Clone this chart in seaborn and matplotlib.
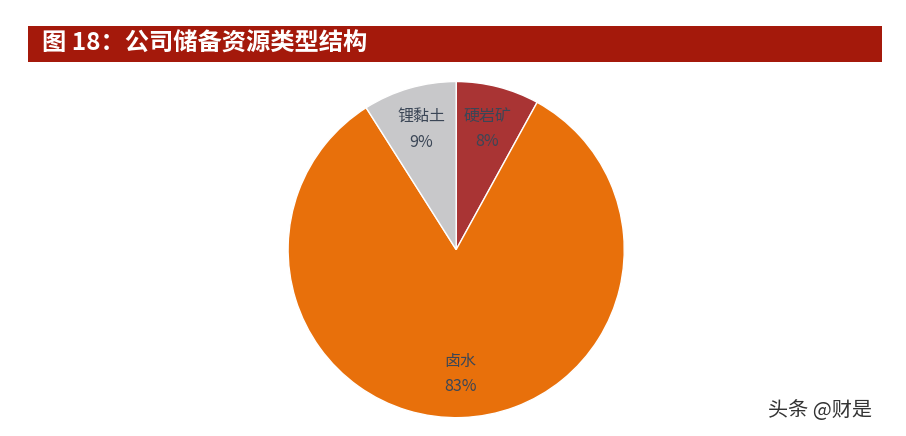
import matplotlib
matplotlib.use("Agg")
import matplotlib.pyplot as plt
from matplotlib.patches import Rectangle
import seaborn as sns

# data
categories = ["硬岩矿", "卤水", "锂黏土"]
shares = [8, 83, 9]
slice_colors = ["#A93434", "#E8700B", "#C8C8CA"]

sns.set_theme(style="white")
plt.rcParams['font.family'] = ['Noto Sans CJK SC', 'DejaVu Sans']

fig = plt.figure(figsize=(9.06, 4.36), dpi=100)
fig.patch.set_facecolor("white")

# title bar
fig.patches.append(Rectangle((0.031, 0.858), 0.943, 0.083, transform=fig.transFigure,
                             facecolor="#A4190B", edgecolor="none"))
fig.text(0.046, 0.899, "图 18：公司储备资源类型结构", color="white", fontsize=17.5,
         fontweight="heavy", va="center", ha="left")

ax = fig.add_axes([0.318, 0.042, 0.371, 0.771])
labels = [f"{c}\n{s}%" for c, s in zip(categories, shares)]
ax.pie(shares, labels=labels, colors=slice_colors, startangle=90, counterclock=False,
       labeldistance=0.74, radius=1,
       wedgeprops=dict(edgecolor="white", linewidth=1),
       textprops=dict(ha="center", va="center", color="#3B4656", fontsize=11.5,
                      linespacing=1.65))
ax.set_xlim(-1.0, 1.0)
ax.set_ylim(-1.0, 1.0)
ax.set_aspect("equal")

# watermark
fig.text(0.848, 0.058, "头条 @财是", color="#333333", fontsize=14.5, ha="left", va="center")

fig.savefig("out.png", dpi=100)
